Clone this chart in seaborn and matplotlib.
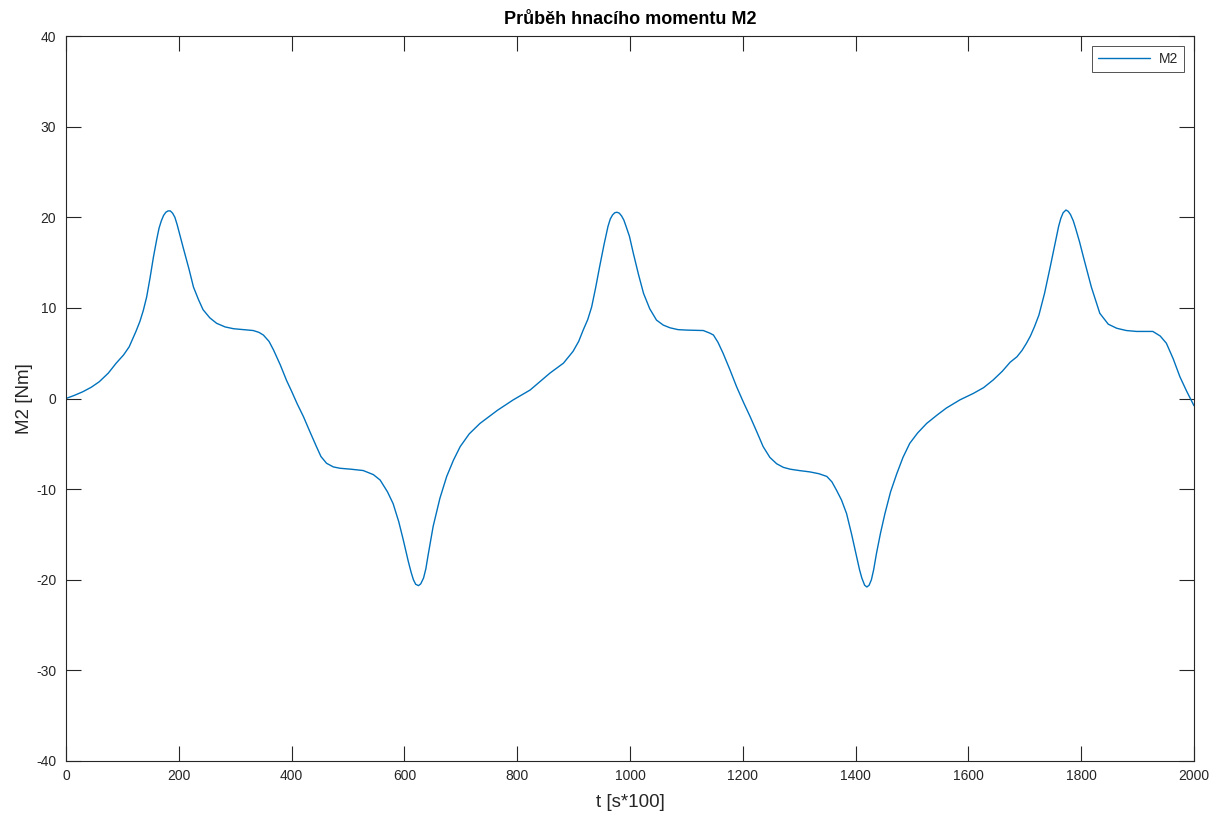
import matplotlib
matplotlib.use("Agg")
import matplotlib.pyplot as plt
import seaborn as sns
import pandas as pd

# Drive torque M2 over time (t in s*100)
t = [0, 15, 30, 45, 59, 75, 89, 102, 112, 124, 131, 137, 143, 149, 155, 161,
     165, 169, 173, 177, 181, 185, 189, 193, 197, 202, 208, 218, 226, 235, 243,
     255, 267, 282, 297, 315, 332, 342, 350, 360, 368, 380, 391, 400, 410, 421,
     432, 444, 452, 462, 474, 486, 505, 527, 545, 557, 570, 580, 590, 598, 607,
     612, 616, 620, 625, 629, 634, 638, 642, 651, 663, 675, 687, 699, 715, 734,
     765, 793, 823, 858, 882, 899, 909, 917, 925, 932, 939, 946, 954, 961, 965,
     969, 973, 977, 981, 985, 989, 993, 999, 1006, 1015, 1024, 1035, 1047, 1059,
     1071, 1085, 1100, 1130, 1142, 1148, 1156, 1165, 1177, 1189, 1201, 1213,
     1225, 1236, 1248, 1260, 1272, 1284, 1300, 1319, 1335, 1349, 1358, 1366,
     1375, 1384, 1393, 1402, 1407, 1411, 1416, 1420, 1424, 1428, 1432, 1437,
     1444, 1452, 1462, 1473, 1484, 1496, 1510, 1526, 1545, 1561, 1585, 1609,
     1627, 1644, 1660, 1674, 1686, 1695, 1703, 1710, 1717, 1725, 1735, 1745,
     1755, 1760, 1764, 1768, 1773, 1777, 1781, 1786, 1790, 1797, 1804, 1818,
     1833, 1848, 1863, 1880, 1898, 1927, 1940, 1951, 1963, 1975, 1987, 2000]
m2 = [0.0, 0.35, 0.75, 1.25, 1.85, 2.8, 3.9, 4.8, 5.7, 7.4, 8.5, 9.7, 11.2,
      13.3, 15.6, 17.6, 18.8, 19.6, 20.2, 20.55, 20.7, 20.7, 20.45, 20.0, 19.2,
      18.0, 16.6, 14.3, 12.3, 10.9, 9.8, 8.9, 8.3, 7.9, 7.7, 7.6, 7.5, 7.3,
      7.0, 6.3, 5.35, 3.7, 2.0, 0.8, -0.6, -2.0, -3.6, -5.3, -6.4, -7.15,
      -7.55, -7.7, -7.8, -7.95, -8.4, -9.0, -10.3, -11.6, -13.6, -15.6, -18.0,
      -19.2, -20.0, -20.5, -20.65, -20.45, -19.8, -18.8, -17.3, -14.1, -11.0,
      -8.6, -6.8, -5.3, -3.9, -2.75, -1.3, -0.15, 0.94, 2.8, 3.9, 5.2, 6.3,
      7.55, 8.7, 10.1, 12.2, 14.5, 17.0, 19.0, 19.8, 20.25, 20.5, 20.55, 20.45,
      20.15, 19.7, 19.0, 17.9, 16.0, 13.7, 11.6, 9.9, 8.65, 8.1, 7.8, 7.6,
      7.55, 7.5, 7.2, 7.0, 6.2, 5.0, 3.2, 1.3, -0.4, -2.0, -3.7, -5.3, -6.5,
      -7.2, -7.6, -7.8, -7.95, -8.1, -8.3, -8.6, -9.2, -10.1, -11.2, -12.7,
      -15.0, -17.5, -18.9, -19.8, -20.6, -20.8, -20.6, -20.0, -18.9, -17.1,
      -14.9, -12.7, -10.3, -8.3, -6.5, -4.95, -3.8, -2.75, -1.8, -1.05, -0.15,
      0.57, 1.2, 2.05, 3.0, 4.0, 4.6, 5.3, 6.1, 6.9, 7.9, 9.2, 11.6, 14.5,
      17.5, 19.0, 19.9, 20.5, 20.8, 20.65, 20.3, 19.6, 18.8, 17.3, 15.6, 12.3,
      9.4, 8.2, 7.75, 7.5, 7.4, 7.4, 6.9, 6.1, 4.4, 2.4, 0.8, -0.8]

x_ticks = [0, 200, 400, 600, 800, 1000, 1200, 1400, 1600, 1800, 2000]
y_ticks = [-40, -30, -20, -10, 0, 10, 20, 30, 40]

df = pd.DataFrame({"t": t, "M2": m2})

sns.set_theme(style="white")
plt.rcParams["font.family"] = ["Liberation Sans", "DejaVu Sans"]

axis_grey = (0.15, 0.15, 0.15)
line_blue = "#0072BD"

fig = plt.figure(figsize=(12.2, 8.16), dpi=100)
ax = fig.add_axes([66 / 1220, 1 - 761 / 816, 1128 / 1220, 725 / 816])

sns.lineplot(data=df, x="t", y="M2", ax=ax, color=line_blue, linewidth=1.0,
             estimator=None, sort=False, label="M2")

ax.set_xlim(0, 2000)
ax.set_ylim(-40, 40)
ax.set_xticks(x_ticks)
ax.set_yticks(y_ticks)
ax.set_xticklabels([str(v) for v in x_ticks])
ax.set_yticklabels([str(v) for v in y_ticks])

for side in ["left", "right", "top", "bottom"]:
    ax.spines[side].set_visible(True)
    ax.spines[side].set_color(axis_grey)
    ax.spines[side].set_linewidth(0.8)

ax.tick_params(axis="both", which="major", direction="in", length=11,
               width=0.8, color=axis_grey, labelcolor=axis_grey, labelsize=10,
               top=True, right=True, bottom=True, left=True)
ax.tick_params(axis="x", pad=6)
ax.tick_params(axis="y", pad=7)

ax.set_xlabel("t [s*100]", fontsize=13.5, color=axis_grey, labelpad=8)
ax.set_ylabel("M2 [Nm]", fontsize=13.5, color=axis_grey, labelpad=2)
ax.set_title("Průběh hnacího momentu M2", fontsize=13, fontweight="bold",
             color="black", pad=9)

leg = ax.legend(loc="upper right", fontsize=10, frameon=True, fancybox=False,
                borderpad=0.4, handlelength=3.8, handletextpad=0.6,
                borderaxespad=0.75)
leg.get_frame().set_edgecolor(axis_grey)
leg.get_frame().set_linewidth(0.7)
for txt in leg.get_texts():
    txt.set_color(axis_grey)

fig.savefig("out.png", dpi=100)
